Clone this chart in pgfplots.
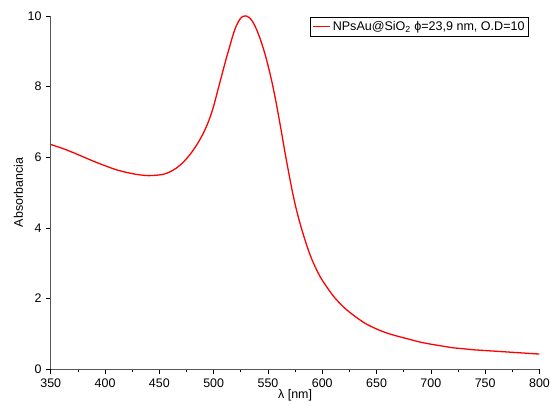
\documentclass[border=0pt]{standalone}
\usepackage{fontspec}
\setmainfont{Liberation Sans}
\usepackage{pgfplots}
\pgfplotsset{compat=1.18}
\definecolor{axgray}{HTML}{555555}
\begin{document}
\fontsize{12.5}{14}\selectfont
\begin{tikzpicture}
\begin{axis}[name=ax,
  scale only axis, width=491pt, height=355pt,
  xmin=350, xmax=800, ymin=0, ymax=10,
  axis x line*=bottom, axis y line*=left,
  axis line style={axgray,-, line width=0.8pt},
  xtick={350,400,...,800}, ytick={0,2,...,10},
  minor xtick={375,425,...,775},
  xtick pos=bottom, ytick pos=left,
  tick align=outside, major tick length=5pt, minor tick length=3pt,
  major tick style={black, line width=0.7pt},
  minor tick style={black, line width=0.7pt},
  xlabel={λ [nm]}, ylabel={Absorbancia},
  xlabel style={yshift=6pt}, ylabel style={yshift=-4pt},
  /pgf/number format/assume math mode=true,
  /pgf/number format/1000 sep={},
  tick label style={font=\fontsize{12.5}{14}\selectfont},
  legend style={at={(0.978,0.997)}, anchor=north east, draw=black,
    font=\fontsize{12.6}{14}\selectfont, inner sep=2pt},
  legend cell align=left,
]
\addplot[red, line width=1.3pt, smooth] table {
x y
350 6.36
360 6.26
370 6.14
380 6.01
390 5.88
400 5.76
410 5.65
420 5.57
430 5.51
440 5.48
450 5.50
455 5.53
460 5.59
465 5.68
470 5.80
475 5.96
480 6.15
485 6.38
490 6.65
494 6.92
497 7.16
500 7.45
503 7.80
506 8.15
509 8.50
512 8.84
515 9.16
518 9.48
521 9.73
524 9.90
527 9.99
530 10.00
533 9.95
536 9.83
539 9.65
542 9.42
545 9.15
548 8.84
551 8.48
554 8.08
557 7.63
560 7.13
563 6.61
566 6.08
569 5.58
572 5.10
575 4.67
578 4.30
581 3.97
584 3.67
587 3.39
590 3.14
595 2.80
600 2.52
610 2.08
620 1.75
630 1.50
640 1.29
650 1.14
660 1.02
670 0.93
680 0.85
690 0.77
700 0.71
710 0.66
720 0.61
730 0.58
740 0.55
750 0.53
760 0.51
770 0.49
780 0.47
790 0.45
800 0.43
};
\addlegendentry{NPsAu@SiO\textsubscript{2} ϕ=23,9 nm, O.D=10}
\end{axis}
\path (ax.north west) ++(-51pt,16pt);
\end{tikzpicture}
\end{document}
